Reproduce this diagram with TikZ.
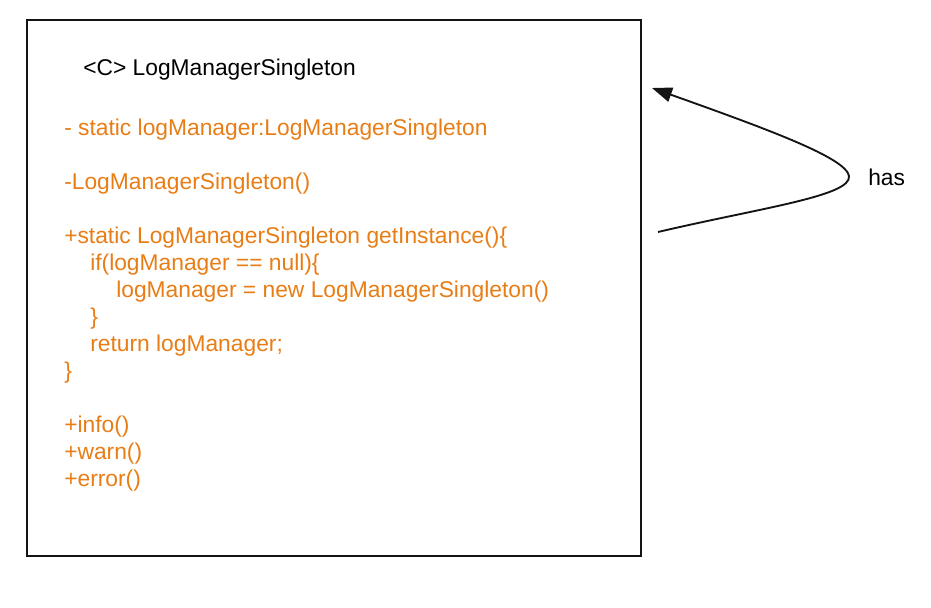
\documentclass[tikz,border=0pt]{standalone}
\usepackage{fontspec}
\setmainfont{Liberation Sans}
\usepackage{tikz}
\definecolor{Mcode}{RGB}{232,125,22}
\definecolor{Mline}{RGB}{20,20,20}
\usetikzlibrary{arrows.meta}

\begin{document}
\begin{tikzpicture}[x=0.75pt, y=-0.75pt,
    umlbox/.style={draw=Mline, line width=1.3pt, minimum width=460.5pt, minimum height=402pt, inner sep=0pt},
    member/.style={anchor=base west, inner sep=0pt, text=Mcode, font=\fontsize{17.1}{20}\selectfont},
    has/.style={-{Triangle[length=15pt,width=11pt]}, line width=1.4pt, Mline}]
    \useasboundingbox (0,0) rectangle (931,607);
    % class box
    \node [umlbox] (cls) at (334,288) {};
    \node [anchor=base west, inner sep=0pt, font=\fontsize{17.1}{20}\selectfont] (title) at (83,75) {<C> LogManagerSingleton};
    \foreach \y/\x/\t [count=\i] in {135/64/{- static logManager:LogManagerSingleton},
            189/64/{-LogManagerSingleton()},
            243/64/{+static LogManagerSingleton getInstance()\{},
            270/90/{if(logManager == null)\{},
            297/116/{logManager = new LogManagerSingleton()},
            324/90/{\}},
            351/90/{return logManager;},
            378/64/{\}},
            432/64/{+info()},
            459/64/{+warn()},
            486/64/{+error()}}
        \node [member] (ln\i) at (\x,\y) {\t};
    % self association
    \coordinate (from) at (658,232);
    \coordinate (turn) at (849,176);
    \coordinate (to) at (652,88);
    \draw [has] (from) .. controls (760,208) and (852,196) .. (turn)
                       .. controls (846,158) and (770,130) .. (to);
    \node [anchor=base west, inner sep=0pt, font=\fontsize{17.1}{20}\selectfont] (lbl) at (868,185) {has};
\end{tikzpicture}
\end{document}
